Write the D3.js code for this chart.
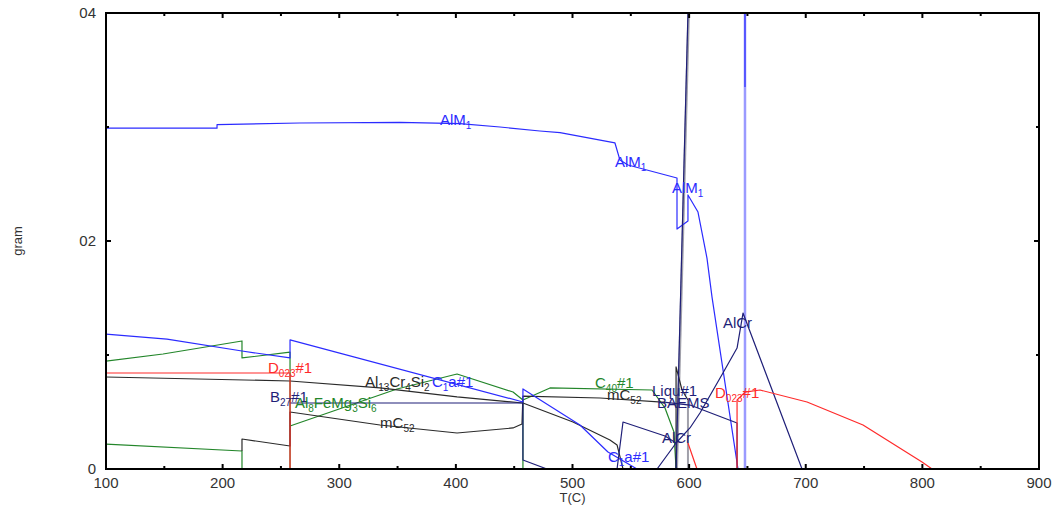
<!DOCTYPE html>
<html>
<head>
<meta charset="utf-8">
<script src="https://cdn.jsdelivr.net/npm/d3@7"></script>
<style>
body { margin: 0; background: #fff; }
text { font-family: "Liberation Sans", Arial, sans-serif; }
</style>
</head>
<body>
<div id="chart"></div>
<script>
// data: each series is a list of [T (C), mass (gram)]
var xTicks = [100, 200, 300, 400, 500, 600, 700, 800, 900];
var yTicks = [0, 0.02, 0.04];
var yTickLabels = ['0', '02', '04'];

var alm1 = [[100, 0.0299], [195.2, 0.0299], [195.2, 0.0302], [266, 0.03035], [352, 0.0304], [403.5, 0.0303],
    [437.8, 0.0300], [472, 0.02965], [489.3, 0.0295], [536.4, 0.0286], [540.7, 0.0271], [547.6, 0.02667],
    [589.6, 0.02553], [589.6, 0.02105], [599, 0.02175], [599, 0.02404], [607.6, 0.02254], [615.3, 0.0185],
    [619.6, 0.0151], [641.9, 0]];
var alm1Vertical = [[647.9, 0], [647.9, 0.04]];
var alm1VerticalTop = [[647.9, 0.0335], [647.9, 0.04]];
var c1a = [[100, 0.01184], [152.3, 0.0114], [216.6, 0.01035], [257.8, 0.00974], [257.8, 0.01132],
    [457.5, 0.00588], [457.5, 0.00702], [506.4, 0.00386], [530.4, 0.00149], [555.3, 0]];
var greenHigh = [[100, 0.00947], [148.9, 0.01009], [216.6, 0.01123], [216.6, 0.00974], [257.8, 0.01026], [257.8, 0]];
var greenLow = [[100, 0.00219], [216.6, 0.00158], [216.6, 0]];
var al8FeMg3Si6 = [[257.8, 0.00377], [349.5, 0.00702], [401, 0.00833], [449, 0.00675], [457.5, 0.00605], [457.5, 0]];
var c40 = [[457.5, 0.00605], [480.7, 0.00711], [568.2, 0.00693], [579.3, 0.00535], [587, 0.00325], [588.8, 0]];
var mc52 = [[216.6, 0.00158], [216.6, 0.00263], [257.8, 0.00202], [257.8, 0.005], [334.9, 0.00386], [401, 0.00316],
    [449, 0.0036], [456.7, 0.00395], [457.5, 0.0064], [523.6, 0.00623], [580, 0.00585]];
var al13Cr4Si2 = [[100, 0.00807], [257.8, 0.00772], [334.9, 0.00711], [401, 0.00632], [457.5, 0.00579],
    [500.4, 0.00412], [532.1, 0.00254], [538.2, 0.00211], [543.3, 0]];
var b27 = [[257.8, 0.00579], [457.5, 0.00579], [457.5, 0.00079], [478.1, 0]];
var d023Low = [[100, 0.00842], [257.8, 0.00842], [257.8, 0]];
var d023Small = [[599, 0.00228], [606.7, 0]];
var d023High = [[641.1, 0], [641.1, 0.00605], [647.9, 0.00675], [660.8, 0.00693], [701.1, 0.00588],
    [749.1, 0.00386], [799.7, 0.00061], [808.3, 0]];
var liquid = [[588.8, 0], [599, 0.04]];
var liquidShade = [[589.4, 0], [599.6, 0.04]];
var spike = [[588.8, 0], [588.8, 0.00895], [593.9, 0.00693], [599, 0.00605]];
var spikeEnd = [[599, 0.00605], [599, 0]];
var alcr = [[572.5, 0], [588.8, 0.00228], [600.7, 0.0036], [609.3, 0.00491], [629, 0.00842], [641.1, 0.01061],
    [646.2, 0.01368], [696.8, 0]];
var navyLow = [[538.2, 0], [543.3, 0.00412], [579.3, 0.00289], [588.8, 0.00228]];
var baems = [[580, 0.00585], [600.7, 0.00561], [641.1, 0.00404], [641.1, 0]];

// labels: [main text, subscript, rest, T, mass, colour key]
var labels = [
    ['AlM', '1', '', 386.4, 0.0302, 'blue'],
    ['AlM', '1', '', 536.4, 0.0265, 'blue'],
    ['AlM', '1', '', 585.3, 0.0242, 'blue'],
    ['AlCr', '', '', 629, 0.01237, 'navy'],
    ['D', '023', '#1', 238.9, 0.00842, 'red'],
    ['Al', '13', 'Cr|4|Si|2', 322, 0.00719, 'black'],
    ['C', '1', 'a#1', 379.5, 0.00719, 'blue'],
    ['B', '27', '#1', 240.6, 0.00588, 'navy'],
    ['Al', '8', 'FeMg|3|Si|6', 262, 0.00535, 'green'],
    ['mC', '52', '', 335, 0.0036, 'black'],
    ['C', '40', '#1', 519.3, 0.00711, 'green'],
    ['mC', '52', '', 529.6, 0.00605, 'black'],
    ['Liqu#1', '', '', 568.2, 0.0064, 'navy'],
    ['BAEMS', '', '', 572.5, 0.00535, 'navy'],
    ['AlCr', '', '', 576.7, 0.00228, 'navy'],
    ['C', '1', 'a#1', 530.4, 0.00061, 'blue'],
    ['D', '023', '#1', 622.2, 0.00623, 'red']
];

var colours = {
    blue: '#2b2bff',
    lightBlue: '#9a9aff',
    navy: '#1f1f78',
    green: '#23862a',
    red: '#ff2a2a',
    black: '#2a2a2a',
    gray: '#a0a0aa'
};

var width = 1056;
var height = 508;
var plotLeft = 106, plotRight = 1039, plotTop = 13, plotBottom = 469;

var svg = d3.select('#chart').append('svg')
    .attr('width', width)
    .attr('height', height);

var x = d3.scaleLinear().domain([100, 900]).range([plotLeft, plotRight]);
var y = d3.scaleLinear().domain([0, 0.04]).range([plotBottom, plotTop]);

svg.append('clipPath').attr('id', 'plotClip')
    .append('rect')
    .attr('x', plotLeft).attr('y', plotTop)
    .attr('width', plotRight - plotLeft).attr('height', plotBottom - plotTop);

var plot = svg.append('g').attr('clip-path', 'url(#plotClip)');

var line = d3.line()
    .x(function (d) { return x(d[0]); })
    .y(function (d) { return y(d[1]); });

function addSeries(data, colour, strokeWidth) {
    plot.append('path')
        .datum(data)
        .attr('d', line)
        .attr('fill', 'none')
        .attr('stroke', colour)
        .attr('stroke-width', strokeWidth || 1.2)
        .attr('stroke-linejoin', 'round');
}

addSeries(liquidShade, colours.gray, 2.5);
addSeries(alm1Vertical, colours.lightBlue, 2.5);
addSeries(alm1VerticalTop, colours.blue, 1.2);
addSeries(greenLow, colours.green);
addSeries(greenHigh, colours.green);
addSeries(al8FeMg3Si6, colours.green);
addSeries(c40, colours.green);
addSeries(mc52, colours.black);
addSeries(al13Cr4Si2, colours.black);
addSeries(b27, colours.navy);
addSeries(c1a, colours.blue);
addSeries(alm1, colours.blue);
addSeries(spike, colours.black);
addSeries(spikeEnd, colours.gray, 2);
addSeries(alcr, colours.navy);
addSeries(navyLow, colours.navy);
addSeries(baems, colours.navy);
addSeries(d023Low, colours.red);
addSeries(d023Small, colours.red);
addSeries(d023High, colours.red);
addSeries(liquid, colours.navy, 1.2);

// phase labels with subscripts
labels.forEach(function (l) {
    var t = svg.append('text')
        .attr('x', x(l[3]))
        .attr('y', y(l[4]))
        .attr('font-size', '15px')
        .attr('fill', colours[l[5]]);
    t.append('tspan').text(l[0]);
    if (l[1] !== '') {
        t.append('tspan').attr('font-size', '10px').attr('dy', 4).text(l[1]);
    }
    if (l[2] !== '') {
        var parts = l[2].split('|');
        var shifted = l[1] !== '';
        parts.forEach(function (p, i) {
            var sub = i % 2 === 1;
            var ts = t.append('tspan').text(p);
            if (sub) {
                ts.attr('font-size', '10px').attr('dy', shifted ? 0 : 4);
                shifted = true;
            } else {
                ts.attr('dy', shifted ? -4 : 0);
                shifted = false;
            }
        });
    }
});

// frame
svg.append('rect')
    .attr('x', plotLeft).attr('y', plotTop)
    .attr('width', plotRight - plotLeft).attr('height', plotBottom - plotTop)
    .attr('fill', 'none')
    .attr('stroke', '#000')
    .attr('stroke-width', 2);

// ticks pointing inward
var xMinor = d3.range(150, 900, 100);
var ticks = svg.append('g').attr('stroke', '#000').attr('stroke-width', 2);
xTicks.forEach(function (t) {
    ticks.append('line').attr('x1', x(t)).attr('x2', x(t)).attr('y1', plotBottom).attr('y2', plotBottom - 5);
    ticks.append('line').attr('x1', x(t)).attr('x2', x(t)).attr('y1', plotTop).attr('y2', plotTop + 5);
});
xMinor.forEach(function (t) {
    ticks.append('line').attr('x1', x(t)).attr('x2', x(t)).attr('y1', plotBottom).attr('y2', plotBottom - 3);
    ticks.append('line').attr('x1', x(t)).attr('x2', x(t)).attr('y1', plotTop).attr('y2', plotTop + 3);
});
[0.01, 0.02, 0.03].forEach(function (v, i) {
    var len = i === 1 ? 5 : 3;
    ticks.append('line').attr('x1', plotLeft).attr('x2', plotLeft + len).attr('y1', y(v)).attr('y2', y(v));
    ticks.append('line').attr('x1', plotRight).attr('x2', plotRight - len).attr('y1', y(v)).attr('y2', y(v));
});

// tick labels
svg.append('g').selectAll('text')
    .data(xTicks)
    .enter()
    .append('text')
    .attr('x', function (d) { return x(d); })
    .attr('y', 488)
    .attr('text-anchor', 'middle')
    .attr('font-size', '15px')
    .attr('fill', '#333')
    .text(function (d) { return d; });

svg.append('g').selectAll('text')
    .data(yTicks)
    .enter()
    .append('text')
    .attr('x', 96)
    .attr('y', function (d) { return y(d) + 5; })
    .attr('text-anchor', 'end')
    .attr('font-size', '15px')
    .attr('fill', '#333')
    .text(function (d, i) { return yTickLabels[i]; });

// axis titles
svg.append('text')
    .attr('x', (plotLeft + plotRight) / 2)
    .attr('y', 502)
    .attr('text-anchor', 'middle')
    .attr('font-size', '13px')
    .attr('fill', '#333')
    .text('T(C)');

svg.append('text')
    .attr('transform', 'translate(22,' + ((plotTop + plotBottom) / 2) + ') rotate(-90)')
    .attr('text-anchor', 'middle')
    .attr('font-size', '13px')
    .attr('fill', '#333')
    .text('gram');
</script>
</body>
</html>
